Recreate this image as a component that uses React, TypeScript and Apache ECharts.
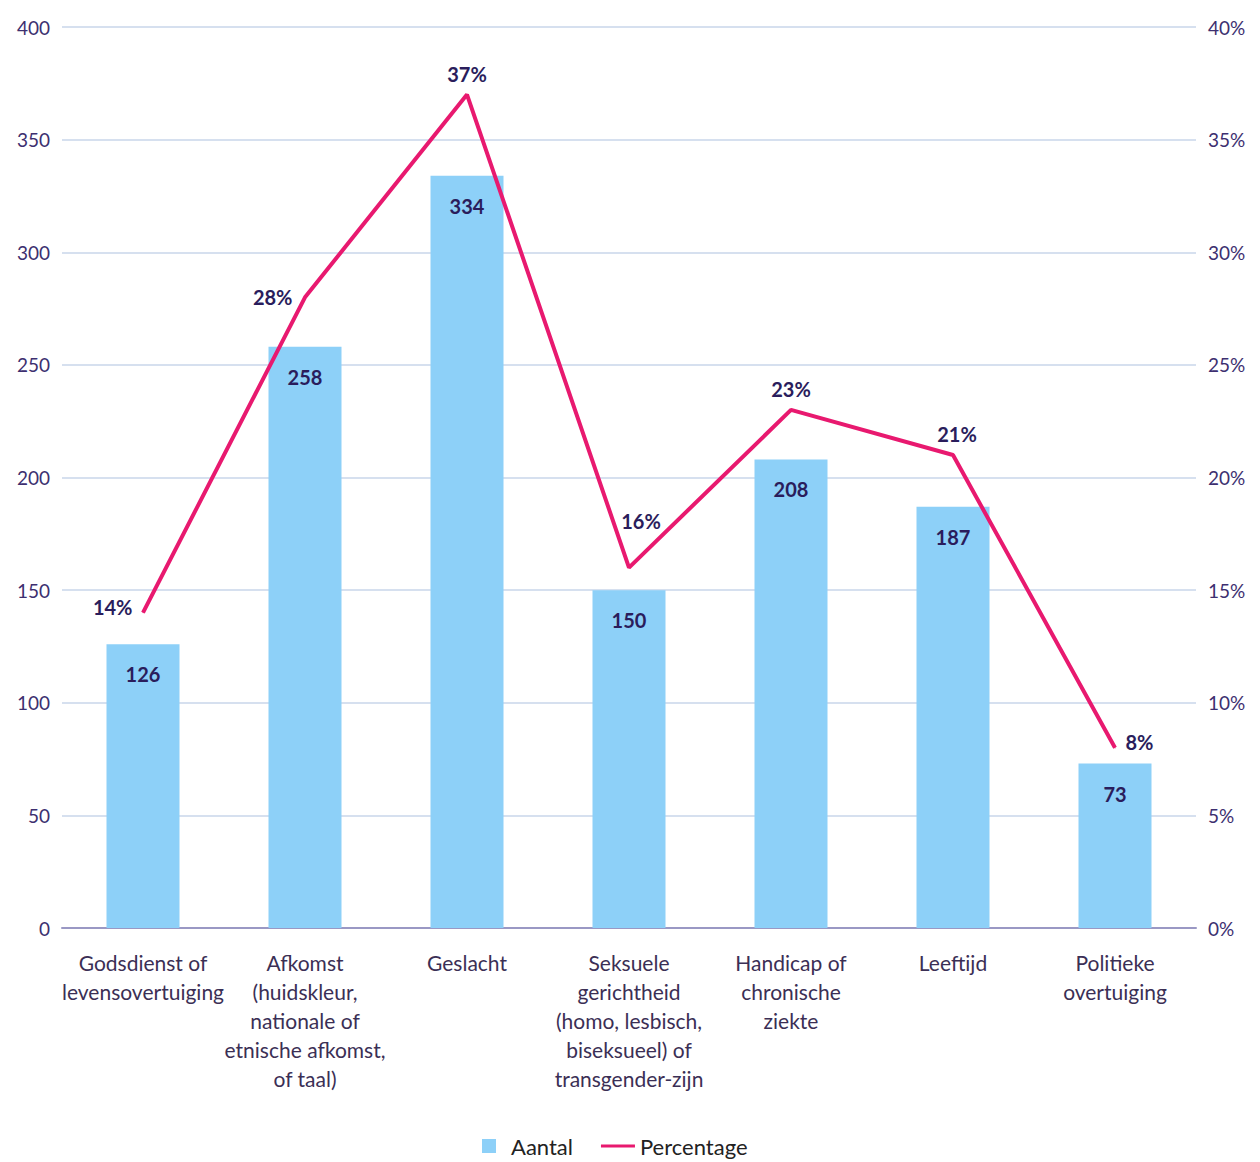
import React, { useEffect, useRef } from "react";
import * as echarts from "echarts";

const categories = [
  "Godsdienst of\nlevensovertuiging",
  "Afkomst\n(huidskleur,\nnationale of\netnische afkomst,\nof taal)",
  "Geslacht",
  "Seksuele\ngerichtheid\n(homo, lesbisch,\nbiseksueel) of\ntransgender-zijn",
  "Handicap of\nchronische\nziekte",
  "Leeftijd",
  "Politieke\novertuiging",
];
const aantal = [126, 258, 334, 150, 208, 187, 73];
const percentage = [14, 28, 37, 16, 23, 21, 8];
const pctLabelPos = ["left", "left", "top", "top", "top", "top", "right"];
const pctLabelOffset = [[0, -6], [-2, 0], [0, 0], [12, -26], [0, 0], [4, 0], [0, -6]];

export default function App() {
  const ref = useRef<HTMLDivElement>(null);
  useEffect(() => {
    document.body.style.margin = "0";
    const chart = echarts.init(ref.current!, null, { renderer: "svg" });
    const font = "Lato, 'Open Sans', sans-serif";
    const tickColor = "#3d2f70";
    const labelDark = "#2a1d5c";
    chart.setOption({
      animation: false,
      backgroundColor: "#ffffff",
      textStyle: { fontFamily: font },
      grid: { left: 62, right: 64, top: 27, bottom: 234, containLabel: false },
      legend: {
        bottom: 0,
        left: 477,
        itemGap: 28,
        itemWidth: 34,
        itemHeight: 14,
        textStyle: { fontSize: 22, color: "#222", fontFamily: font },
        data: [
          { name: "Aantal", icon: "path://M10,0 h14 v14 h-14 z" },
          { name: "Percentage", icon: "path://M0,6 h34 v3 h-34 z" },
        ],
      },
      xAxis: {
        type: "category",
        data: categories,
        axisLine: { lineStyle: { color: "#9a98c4", width: 2 } },
        axisTick: { show: false },
        axisLabel: {
          interval: 0,
          fontSize: 21,
          lineHeight: 29,
          color: "#3b2f55",
          margin: 20,
          fontFamily: font,
        },
      },
      yAxis: [
        {
          type: "value",
          min: 0,
          max: 400,
          interval: 50,
          axisLine: { show: false },
          axisTick: { show: false },
          axisLabel: { fontSize: 19, color: tickColor, margin: 12, fontFamily: font },
          splitLine: { lineStyle: { color: "#c8d6ea", width: 1.5 } },
        },
        {
          type: "value",
          min: 0,
          max: 40,
          interval: 5,
          axisLine: { show: false },
          axisTick: { show: false },
          axisLabel: { fontSize: 19, color: tickColor, margin: 12, formatter: "{value}%", fontFamily: font },
          splitLine: { show: false },
        },
      ],
      series: [
        {
          name: "Aantal",
          type: "bar",
          data: aantal,
          barWidth: 73,
          itemStyle: { color: "#8dd0f8" },
          label: {
            show: true,
            position: "insideTop",
            distance: 20,
            fontSize: 20,
            fontWeight: "bold",
            color: labelDark,
            fontFamily: font,
          },
        },
        {
          name: "Percentage",
          type: "line",
          yAxisIndex: 1,
          data: percentage.map((v, i) => ({
            value: v,
            label: { position: pctLabelPos[i], offset: pctLabelOffset[i] },
          })),
          symbol: "circle",
          symbolSize: 1,
          showSymbol: true,
          lineStyle: { color: "#e8196f", width: 4 },
          itemStyle: { color: "#e8196f" },
          label: {
            show: true,
            formatter: "{c}%",
            fontSize: 20,
            fontWeight: "bold",
            color: labelDark,
            distance: 10,
            fontFamily: font,
          },
        },
      ],
    });
    return () => chart.dispose();
  }, []);
  return <div ref={ref} style={{ width: 1260, height: 1162 }} />;
}
